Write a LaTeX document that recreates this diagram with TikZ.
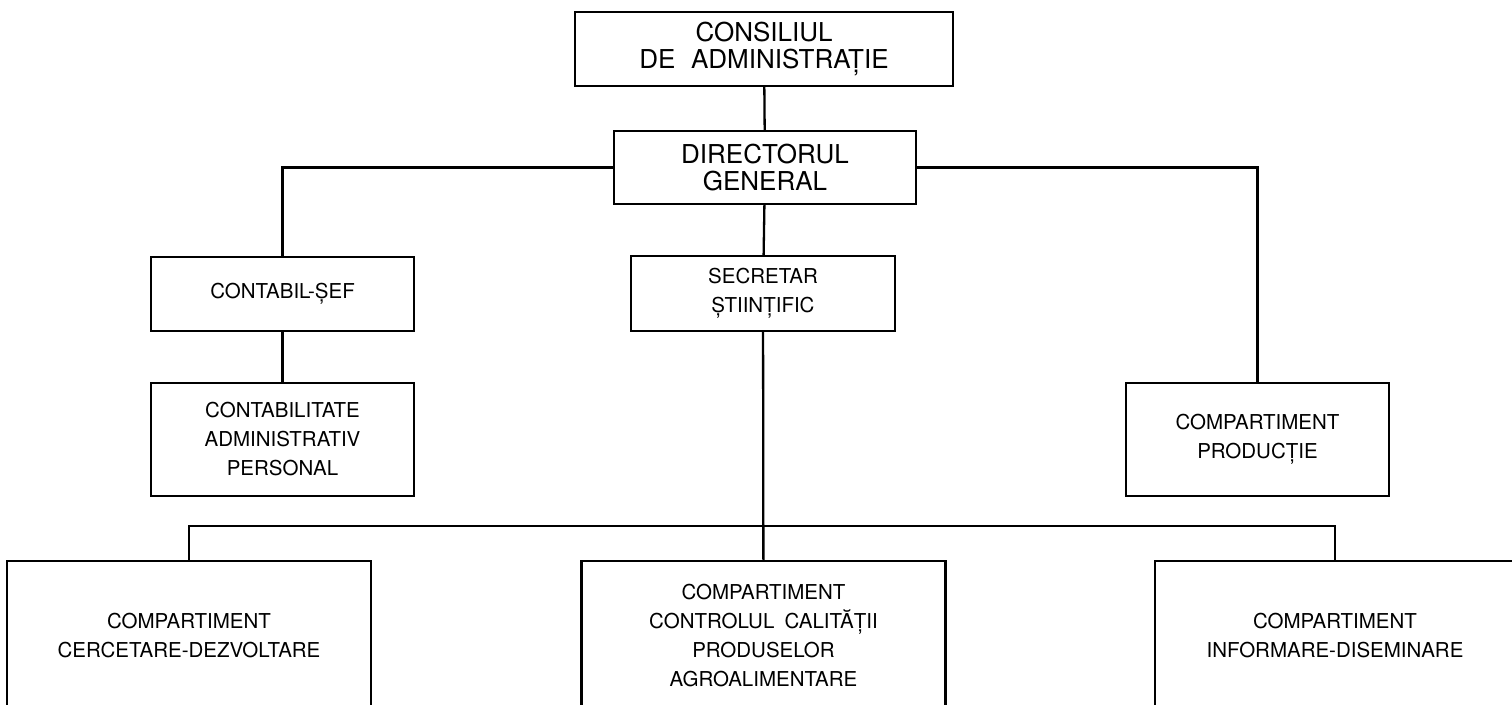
\documentclass[tikz,border=0pt]{standalone}
\usepackage{fontspec}
\setmainfont{TeX Gyre Heros}
\tikzset{
    head node/.style={draw, line width=2.3pt, align=center, inner sep=0pt, font=\fontsize{26}{27}\selectfont},
    unit node/.style={draw, line width=2.3pt, align=center, inner sep=0pt, font=\fontsize{20.5}{29}\selectfont},
    dept node/.style={unit node, anchor=north, minimum width=364pt, minimum height=148pt},
    link/.style={line width=2.3pt}
    }

\begin{document}
\begin{tikzpicture}[x=1pt, y=-1pt]
    \useasboundingbox (0,0) rectangle (1512,704);
    % Management
    \node(cons)[head node, minimum width=378pt, minimum height=74pt] at (764,49) {CONSILIUL\\DE\hspace{0.6em}ADMINISTRAȚIE};
    \node(dir)[head node, minimum width=302pt, minimum height=73pt] at (765,167.5) {DIRECTORUL\\GENERAL};
    % Second level
    \node(sef)[unit node, minimum width=263pt, minimum height=74pt] at (282.5,294) {CONTABIL-ȘEF};
    \node(secr)[unit node, minimum width=264pt, minimum height=75pt] at (763,293.5) {SECRETAR\\ȘTIINȚIFIC};
    \node(cont)[unit node, minimum width=263pt, minimum height=113pt] at (282.5,439.5) {CONTABILITATE\\ADMINISTRATIV\\PERSONAL};
    \node(prod)[unit node, minimum width=263pt, minimum height=113pt] at (1257.5,439.5) {COMPARTIMENT\\PRODUCȚIE};
    % Departments under the scientific secretary
    \node(cd)[dept node] at (189,560) {COMPARTIMENT\\CERCETARE-DEZVOLTARE};
    \node(cc)[dept node] at (763.5,560) {COMPARTIMENT\\CONTROLUL\hspace{0.5em}CALITĂȚII\\PRODUSELOR\\AGROALIMENTARE};
    \node(id)[dept node, minimum width=360pt] at (1335,560) {COMPARTIMENT\\INFORMARE-DISEMINARE};
    \coordinate(bus) at (763,526);
    % Connectors
    \draw[link] (cons) -- (dir);
    \draw[link] (dir.west) -| (sef.north);
    \draw[link] (dir.east) -| (prod.north);
    \draw[link] (dir) -- (secr);
    \draw[link] (sef) -- (cont);
    \draw[link] (secr) -- (cc);
    \draw[link] (cd.north) |- (bus) -| (id.north);
\end{tikzpicture}
\end{document}
